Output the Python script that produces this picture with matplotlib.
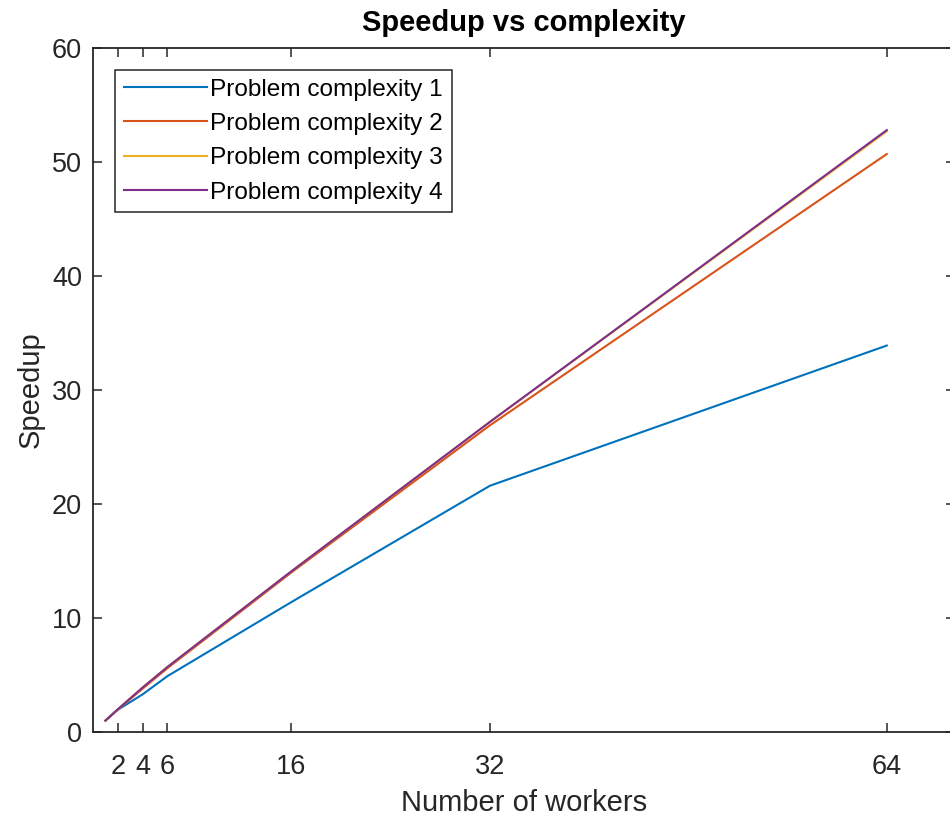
import matplotlib.pyplot as plt
import numpy as np

plt.rcParams['font.family'] = ['Liberation Sans', 'DejaVu Sans']

# data
workers = [1, 2, 4, 6, 16, 32, 64]
speedup_1 = [1, 1.95, 3.3, 4.9, 11.4, 21.6, 33.9]
speedup_2 = [1, 1.98, 3.8, 5.6, 14.0, 26.9, 50.7]
speedup_3 = [1, 1.99, 3.9, 5.7, 14.1, 27.2, 52.7]
speedup_4 = [1, 1.99, 3.9, 5.7, 14.1, 27.2, 52.8]
labels = ['Problem complexity 1', 'Problem complexity 2',
          'Problem complexity 3', 'Problem complexity 4']
xticks = [2, 4, 6, 16, 32, 64]
yticks = [0, 10, 20, 30, 40, 50, 60]

colors = ['#0072BD', '#D95319', '#EDB120', '#7E2F8E']
dark = '#262626'

fig = plt.figure(figsize=(9.5, 8.17), dpi=100)
ax = fig.add_axes([93 / 950, 85 / 817, 862 / 950, 684 / 817])

for s, c, lab in zip([speedup_1, speedup_2, speedup_3, speedup_4], colors, labels):
    ax.plot(workers, s, color=c, lw=1.5, label=lab)

ax.set_xlim(0, 69.5)
ax.set_ylim(0, 60)
ax.set_xticks(xticks)
ax.set_yticks(yticks)

ax.tick_params(direction='in', length=6.5, width=1.1, colors=dark,
               labelsize=19.5, top=True, right=True, pad=8)
ax.tick_params(axis='x', pad=16)
for sp in ax.spines.values():
    sp.set_color(dark)
    sp.set_linewidth(1.3)

ax.set_xlabel('Number of workers', fontsize=21, color=dark, labelpad=6)
ax.set_ylabel('Speedup', fontsize=21, color=dark, labelpad=5)
ax.set_title('Speedup vs complexity', fontsize=21, fontweight='bold',
             color='black', pad=12)

leg = ax.legend(loc='upper left', bbox_to_anchor=(0.0255, 0.968),
                borderaxespad=0, fontsize=17.6, handlelength=3.4,
                handletextpad=0.15, labelspacing=0.5, borderpad=0.35,
                fancybox=False, framealpha=1)
leg.get_frame().set_edgecolor(dark)
leg.get_frame().set_linewidth(1.1)
for t in leg.get_texts():
    t.set_color('black')

fig.savefig('out.png', dpi=100)
